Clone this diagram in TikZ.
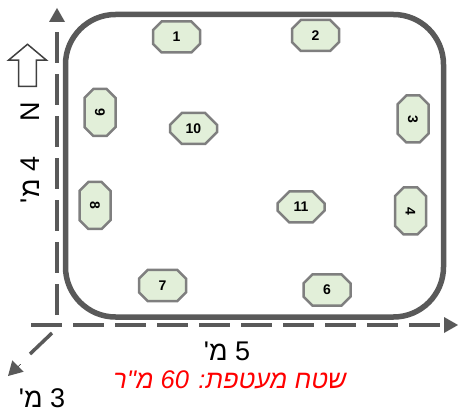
\documentclass[tikz,border=0pt]{standalone}
\usepackage{fontspec}
\setmainfont{Liberation Sans}
\newfontfamily\hebfont[Script=Hebrew]{Liberation Sans}
\TeXXeTstate=1
\usetikzlibrary{shapes.misc,shapes.arrows,arrows.meta}
\definecolor{darkline}{HTML}{595959}
\definecolor{padfill}{HTML}{E2EFD9}
\definecolor{padline}{HTML}{7F7F7F}
\tikzset{
  pad/.style={chamfered rectangle,chamfered rectangle xsep=7pt,chamfered rectangle ysep=7pt,draw=padline,line width=2.5pt,fill=padfill,inner sep=0pt,
    minimum width=47pt,minimum height=31pt,font=\bfseries\fontsize{14}{14}\selectfont},
  padv/.style={pad,rotate=-90},
  axis/.style={darkline,line width=3.5pt,dash pattern=on 31pt off 11pt},
  axistip/.style={darkline,fill=darkline,line width=0pt,-{Triangle[length=14pt,width=16pt]}},
  dimlabel/.style={font=\hebfont\fontsize{27}{27}\selectfont,text=black,inner sep=0pt}
}
\begin{document}
\begin{tikzpicture}[x=1pt,y=-1pt]
\useasboundingbox (0,0) rectangle (458,414);
% axes
\coordinate (vstart) at (57,315);
\coordinate (vend) at (57,22);
\coordinate (vtip) at (57,8);
\coordinate (hstart) at (31,325);
\coordinate (hend) at (444,325);
\coordinate (htip) at (458,325);
\coordinate (dstart) at (52,333);
\coordinate (dend) at (30,354);
\coordinate (dbase) at (20,364);
\coordinate (dtip) at (8,376);
\draw[axis] (vstart) -- (vend);
\draw[axis] (hstart) -- (hend);
\draw[axis] (dstart) -- (dend);
\draw[axistip] (vend) -- (vtip);
\draw[axistip] (hend) -- (htip);
\draw[axistip] (dbase) -- (dtip);
% outline
\draw[darkline,line width=5.5pt,rounded corners=50pt] (65.5,14.5) rectangle (443.5,317);
% pads
\node[pad] (pad1) at (176.5,37) {1};
\node[pad] (pad2) at (315.5,35.5) {2};
\node[padv] (pad3) at (413,119) {3};
\node[padv] (pad4) at (410.5,211) {4};
\node[pad] (pad6) at (327,290) {6};
\node[pad] (pad7) at (162.5,285.5) {7};
\node[padv] (pad8) at (95,205.5) {8};
\node[padv] (pad9) at (100,112.5) {9};
\node[pad] (pad10) at (193.5,128.5) {10};
\node[pad] (pad11) at (301,207) {11};
% north
\node[single arrow,draw=black!75,line width=1.5pt,rotate=90,minimum height=42pt,minimum width=38pt,inner sep=0pt,
  single arrow head extend=10pt,single arrow tip angle=100,single arrow head indent=0pt,text width=0pt,text height=8pt,text depth=8pt] (north) at (27.5,69) {};
\node[dimlabel,rotate=90] (nlabel) at (30,112) {N};
% labels
\node[dimlabel,rotate=90] (left) at (30,180) {\beginR 4 מ'\endR};
\node[dimlabel] (bottom) at (227,351) {\beginR 5 מ'\endR};
\node[dimlabel] (depth) at (42,398) {\beginR 3 מ'\endR};
\node[dimlabel,text=red,font=\hebfont\itshape\fontsize{25.5}{25.5}\selectfont] (area) at (230,380) {\beginR שטח מעטפת: \beginL 60\endL{} מ"ר\endR};
\end{tikzpicture}
\end{document}
